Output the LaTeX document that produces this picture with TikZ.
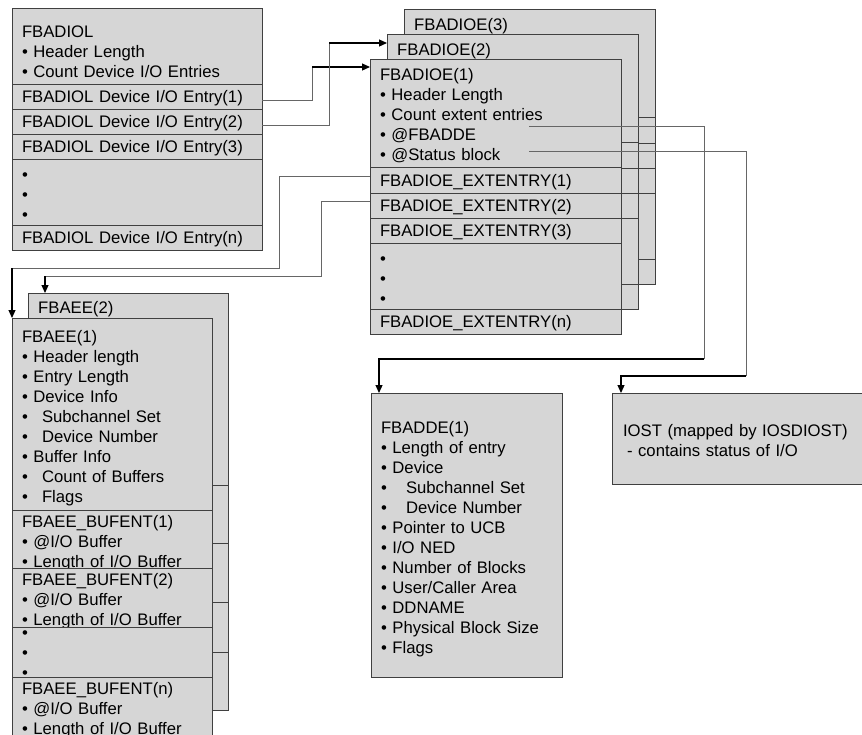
\documentclass[tikz,border=0pt]{standalone}
\usepackage{fontspec}
\setmainfont{Liberation Sans}
\usepackage{tikz}
\usetikzlibrary{positioning,calc,arrows.meta}
\definecolor{blockGray}{RGB}{214,214,214}
\newcommand{\bul}{\textbullet\ }
\newcommand{\subbul}[1][0.85em]{\textbullet\hspace{#1}}

\begin{document}
\begin{tikzpicture}[x=1pt, y=-1pt, node distance=0pt,
    textdrop/.style={execute at begin node={\rule{0pt}{#1}}},
    sec/.style={rectangle, draw=black!75, fill=blockGray, line width=0.8pt, anchor=north west, outer sep=0pt,
                inner xsep=10pt, inner ysep=0pt, align=left, font=\fontsize{16.7}{20}\selectfont, textdrop=16pt},
    iol/.style={sec, text width=230pt},
    ioe/.style={sec, text width=231pt},
    aee/.style={sec, text width=180pt},
    tight/.style={text height=17pt, text depth=#1},
    ttl/.style={anchor=north west, inner xsep=10pt, inner ysep=9pt, font=\fontsize{16.7}{20}\selectfont},
    wire/.style={draw=black!60, line width=0.9pt},
    arr/.style={draw=black, line width=1.2pt, -{Triangle[length=8pt,width=7pt]}}]
\useasboundingbox (0,0) rectangle (862,734);

% FBADIOL list
\node[iol, minimum height=76pt, textdrop=24pt] (iolh) at (12,8) {FBADIOL\\ \bul Header Length\\ \bul Count Device I/O Entries};
\node[iol, minimum height=25pt, below=of iolh] (iole1) {FBADIOL Device I/O Entry(1)};
\node[iol, minimum height=25pt, below=of iole1] (iole2) {FBADIOL Device I/O Entry(2)};
\node[iol, minimum height=25pt, below=of iole2] (iole3) {FBADIOL Device I/O Entry(3)};
\node[iol, minimum height=66pt, below=of iole3] (ioldots) {\textbullet\\ \textbullet\\ \textbullet};
\node[iol, minimum height=25pt, below=of ioldots] (iolen) {FBADIOL Device I/O Entry(n)};

% FBADIOE stack, back copies first
\foreach \k/\bx/\by in {3/404/9, 2/387/34} {
  \node[ioe, minimum height=108pt] (ioeh\k) at (\bx,\by) {};
  \node[ioe, minimum height=26pt, below=of ioeh\k] (ioea\k) {};
  \node[ioe, minimum height=25pt, below=of ioea\k] (ioeb\k) {};
  \node[ioe, minimum height=25pt, below=of ioeb\k] (ioec\k) {};
  \node[ioe, minimum height=66pt, below=of ioec\k] (ioed\k) {};
  \node[ioe, minimum height=25pt, below=of ioed\k] (ioen\k) {};
  \node[ttl] (ioet\k) at (ioeh\k.north west) {FBADIOE(\k)};
}
\node[ioe, minimum height=108pt, textdrop=18pt] (ioeh1) at (370,59) {FBADIOE(1)\\ \bul Header Length\\ \bul Count extent entries\\ \bul @FBADDE\\ \bul @Status block};
\node[ioe, minimum height=26pt, below=of ioeh1] (ioea1) {FBADIOE\_EXTENTRY(1)};
\node[ioe, minimum height=25pt, below=of ioea1] (ioeb1) {FBADIOE\_EXTENTRY(2)};
\node[ioe, minimum height=25pt, below=of ioeb1] (ioec1) {FBADIOE\_EXTENTRY(3)};
\node[ioe, minimum height=66pt, below=of ioec1] (ioed1) {\textbullet\\ \textbullet\\ \textbullet};
\node[ioe, minimum height=25pt, below=of ioed1] (ioen1) {FBADIOE\_EXTENTRY(n)};

% FBAEE stack
\node[aee, minimum height=192pt] (aeeh2) at (28,293) {};
\node[aee, minimum height=58pt, below=of aeeh2] (aeea2) {};
\node[aee, minimum height=59pt, below=of aeea2] (aeeb2) {};
\node[aee, minimum height=50pt, below=of aeeb2] (aeed2) {};
\node[aee, minimum height=58pt, below=of aeed2] (aeen2) {};
\node[ttl, inner ysep=8pt] (aeet2) at (aeeh2.north west) {FBAEE(2)};

\node[aee, minimum height=192pt, textdrop=20pt] (aeeh1) at (12,318) {FBAEE(1)\\ \bul Header length\\ \bul Entry Length\\ \bul Device Info\\
  \subbul Subchannel Set\\ \subbul Device Number\\ \bul Buffer Info\\ \subbul Count of Buffers\\ \subbul Flags};
\node[aee, minimum height=58pt, tight=41pt, below=of aeeh1] (aeea1) {FBAEE\_BUFENT(1)\\ \bul @I/O Buffer\\ \bul Length of I/O Buffer};
\node[aee, minimum height=59pt, tight=42pt, below=of aeea1] (aeeb1) {FBAEE\_BUFENT(2)\\ \bul @I/O Buffer\\ \bul Length of I/O Buffer};
\node[aee, minimum height=50pt, text height=11pt, text depth=39pt, below=of aeeb1] (aeed1) {\textbullet\\ \textbullet\\ \textbullet};
\node[aee, minimum height=58pt, tight=41pt, below=of aeed1] (aeen1) {FBAEE\_BUFENT(n)\\ \bul @I/O Buffer\\ \bul Length of I/O Buffer};

% FBADDE and IOST
\node[sec, text width=171pt, minimum height=284pt, textdrop=20pt] (dde) at (371,393) {FBADDE(1)\\ \bul Length of entry\\ \bul Device\\
  \subbul[1.15em]Subchannel Set\\ \subbul[1.15em]Device Number\\ \bul Pointer to UCB\\ \bul I/O NED\\ \bul Number of Blocks\\
  \bul User/Caller Area\\ \bul DDNAME\\ \bul Physical Block Size\\ \bul Flags};
\node[sec, text width=240pt, inner xsep=11pt, minimum height=91pt] (iost) at (612,393) {IOST (mapped by IOSDIOST)\\ \hspace{4pt}- contains status of I/O};

% connectors
\coordinate (k1) at (312,67);
\coordinate (k2) at (329,43);
\draw[wire] ([yshift=-4pt]iole1.east) -| (k1);
\draw[arr] (k1) -- (k1 -| ioeh1.west);
\draw[wire] ([yshift=-4pt]iole2.east) -| (k2);
\draw[arr] (k2) -- (k2 -| ioeh2.west);

\coordinate (fbdde) at (529,126);
\coordinate (k3) at (704,359);
\draw[wire] (fbdde) -| (k3);
\draw[arr] (k3) -| ([xshift=8pt]dde.north west);
\coordinate (stblk) at (529,151);
\coordinate (k4) at (746,376);
\draw[wire] (stblk) -| (k4);
\draw[arr] (k4) -| ([xshift=9pt]iost.north west);

\coordinate (k5a) at (279,268);
\coordinate (k5) at (12,268);
\draw[wire] ([yshift=4pt]ioea1.west) -| (k5a) -- (k5);
\draw[arr] (k5) -- (k5 |- aeeh1.north);
\coordinate (k6a) at (321,276);
\coordinate (k6) at (45,276);
\draw[wire] ([yshift=4pt]ioeb1.west) -| (k6a) -- (k6);
\draw[arr] (k6) -- (k6 |- aeeh2.north);
\end{tikzpicture}
\end{document}
